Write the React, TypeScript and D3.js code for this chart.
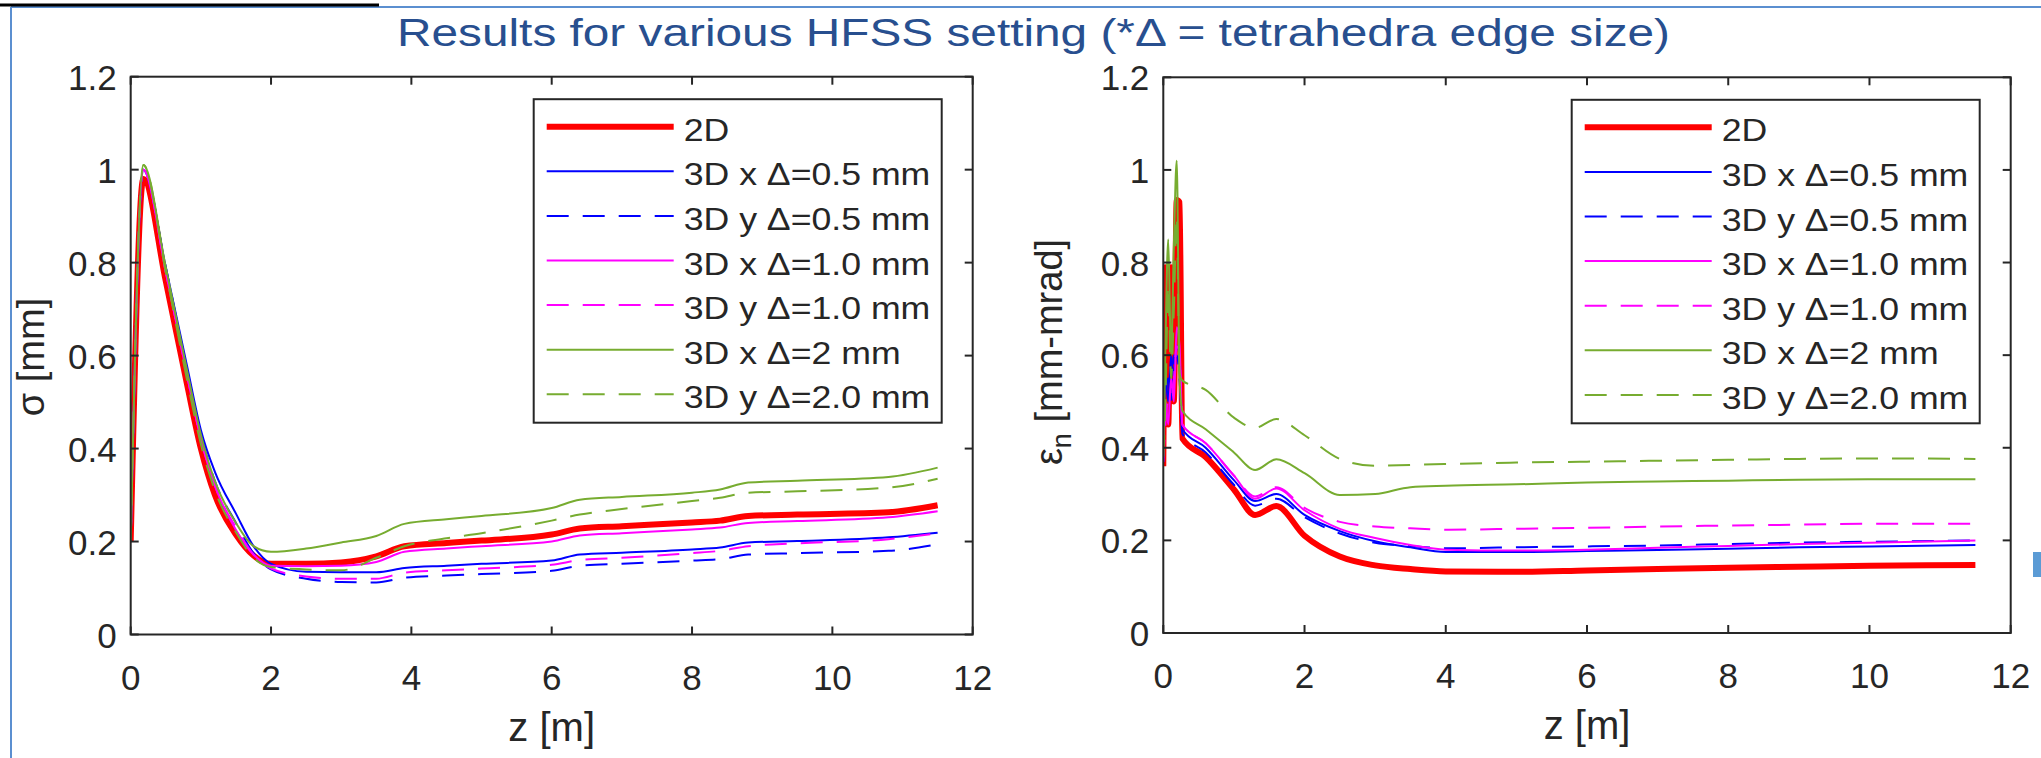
import React from 'react';
import * as d3 from 'd3';

const W = 2041;
const H = 758;

const titleText = 'Results for various HFSS setting (*Δ = tetrahedra edge size)';
const xTicks = [0, 2, 4, 6, 8, 10, 12];
const yTicks = [0, 0.2, 0.4, 0.6, 0.8, 1, 1.2];
const yTickLabels = ['0', '0.2', '0.4', '0.6', '0.8', '1', '1.2'];
const xLabel = 'z [m]';
const legendLabels = ['2D', '3D x Δ=0.5 mm', '3D y Δ=0.5 mm', '3D x Δ=1.0 mm', '3D y Δ=1.0 mm', '3D x Δ=2 mm', '3D y Δ=2.0 mm'];

// Left panel: sigma [mm] vs z [m]
const zSigma = [0, 0.18, 0.5, 0.8, 1.0, 1.2, 1.5, 1.75, 2.0, 2.5, 3.0, 3.5, 3.9, 4.5, 5.0, 6.0, 6.4, 7.0, 8.0, 8.4, 8.8, 9.5, 10.8, 11.5];
const sigma2D = [0.2, 0.98, 0.76, 0.54, 0.4, 0.3, 0.215, 0.17, 0.152, 0.152, 0.155, 0.168, 0.19, 0.197, 0.202, 0.215, 0.228, 0.233, 0.241, 0.245, 0.255, 0.258, 0.263, 0.278];
const sigmaX05 = [0.2, 1.0, 0.79, 0.58, 0.44, 0.35, 0.26, 0.19, 0.152, 0.135, 0.134, 0.134, 0.143, 0.148, 0.152, 0.159, 0.172, 0.176, 0.183, 0.187, 0.198, 0.201, 0.209, 0.219];
const sigmaY05 = [0.2, 1.0, 0.79, 0.57, 0.43, 0.33, 0.24, 0.175, 0.14, 0.12, 0.113, 0.112, 0.122, 0.127, 0.13, 0.137, 0.148, 0.152, 0.159, 0.162, 0.172, 0.175, 0.18, 0.194];
const sigmaX10 = [0.2, 1.0, 0.78, 0.56, 0.42, 0.32, 0.225, 0.172, 0.148, 0.147, 0.148, 0.156, 0.178, 0.185, 0.19, 0.2, 0.213, 0.218, 0.226, 0.23, 0.24, 0.244, 0.252, 0.265];
const sigmaY10 = [0.2, 1.0, 0.78, 0.56, 0.42, 0.32, 0.23, 0.172, 0.142, 0.125, 0.12, 0.12, 0.133, 0.138, 0.142, 0.15, 0.16, 0.165, 0.175, 0.18, 0.19, 0.196, 0.205, 0.218];
const sigmaX20 = [0.2, 1.01, 0.79, 0.57, 0.43, 0.33, 0.24, 0.19, 0.178, 0.185, 0.198, 0.212, 0.238, 0.248, 0.255, 0.272, 0.29, 0.296, 0.305, 0.312, 0.327, 0.331, 0.339, 0.359];
const sigmaY20 = [0.2, 1.01, 0.78, 0.55, 0.41, 0.31, 0.22, 0.165, 0.145, 0.14, 0.138, 0.165, 0.19, 0.207, 0.218, 0.245, 0.258, 0.27, 0.287, 0.294, 0.305, 0.308, 0.316, 0.335];

// Right panel: emittance eps_n [mm-mrad] vs z [m]
const zEps = [0, 0.03, 0.07, 0.11, 0.15, 0.19, 0.23, 0.27, 0.6, 1.0, 1.3, 1.6, 2.0, 2.5, 3.0, 3.5, 4.0, 5.0, 6.0, 7.0, 8.0, 9.0, 10.0, 11.5];
const eps2D = [0.36, 0.79, 0.45, 0.79, 0.5, 0.935, 0.93, 0.42, 0.38, 0.31, 0.255, 0.274, 0.21, 0.165, 0.146, 0.138, 0.133, 0.132, 0.135, 0.138, 0.141, 0.143, 0.145, 0.147];
const epsX05 = [0.37, 0.55, 0.5, 0.6, 0.55, 0.62, 0.6, 0.44, 0.4, 0.33, 0.285, 0.3, 0.255, 0.22, 0.198, 0.185, 0.175, 0.175, 0.177, 0.179, 0.182, 0.185, 0.187, 0.19];
const epsY05 = [0.37, 0.5, 0.55, 0.5, 0.6, 0.6, 0.55, 0.43, 0.39, 0.32, 0.275, 0.29, 0.25, 0.215, 0.195, 0.188, 0.183, 0.185, 0.187, 0.189, 0.192, 0.195, 0.197, 0.2];
const epsX10 = [0.37, 0.5, 0.45, 0.55, 0.5, 0.66, 0.62, 0.45, 0.41, 0.34, 0.29, 0.312, 0.265, 0.225, 0.205, 0.19, 0.18, 0.178, 0.18, 0.184, 0.188, 0.192, 0.195, 0.2];
const epsY10 = [0.37, 0.45, 0.5, 0.5, 0.55, 0.62, 0.6, 0.45, 0.41, 0.34, 0.295, 0.315, 0.27, 0.24, 0.23, 0.226, 0.223, 0.225, 0.227, 0.23, 0.232, 0.234, 0.236, 0.236];
const epsX20 = [0.38, 0.62, 0.85, 0.6, 0.84, 1.02, 0.55, 0.48, 0.44, 0.39, 0.352, 0.375, 0.345, 0.298, 0.3, 0.315, 0.318, 0.321, 0.325, 0.327, 0.329, 0.331, 0.332, 0.332];
const epsY20 = [0.38, 0.5, 0.75, 0.55, 0.7, 0.9, 0.56, 0.545, 0.525, 0.465, 0.443, 0.462, 0.427, 0.376, 0.361, 0.363, 0.365, 0.368, 0.37, 0.372, 0.374, 0.376, 0.377, 0.376];

const sigmaSeries = [sigma2D, sigmaX05, sigmaY05, sigmaX10, sigmaY10, sigmaX20, sigmaY20];
const epsSeries = [eps2D, epsX05, epsY05, epsX10, epsY10, epsX20, epsY20];

const STYLE = {
  colors: ['#ff0000', '#0000ff', '#0000ff', '#ff00ff', '#ff00ff', '#77ac30', '#77ac30'],
  dashed: [false, false, true, false, true, false, true],
  widths: [6, 2, 2, 2, 2, 2, 2],
  axis: '#262626',
  font: 'Liberation Sans, Arial, Helvetica, sans-serif',
};

type PanelProps = {
  id: string;
  x0: number; x1: number; yBot: number; yTop: number;
  z: number[]; series: number[][];
  ylabel: React.ReactNode; ylabelX: number; ylabelY: number;
};

function Panel({ id, x0, x1, yBot, yTop, z, series, ylabel, ylabelX, ylabelY }: PanelProps) {
  const xs = d3.scaleLinear().domain([0, 12]).range([x0, x1]);
  const ys = d3.scaleLinear().domain([0, 1.2]).range([yBot, yTop]);
  const line = d3.line<number>().x((_, i) => xs(z[i])).y((d) => ys(d)).curve(d3.curveMonotoneX);
  const tl = 8;
  const lgRight = x1 - 31;
  const lgLeft = lgRight - 408;
  const lgTop = yTop + 22.5;
  const lgH = 323.5;
  const rowY = (i: number) => lgTop + 27.5 + i * 44.6;
  return (
    <g>
      <defs>
        <clipPath id={id}>
          <rect x={x0} y={yTop} width={x1 - x0} height={yBot - yTop} />
        </clipPath>
      </defs>
      <g clipPath={`url(#${id})`}>
        {series.map((s, i) => (
          <path key={i} d={line(s) || ''} fill="none" stroke={STYLE.colors[i]} strokeWidth={STYLE.widths[i]}
            strokeDasharray={STYLE.dashed[i] ? '22 14' : undefined} strokeLinejoin="round" />
        ))}
      </g>
      <rect x={x0} y={yTop} width={x1 - x0} height={yBot - yTop} fill="none" stroke={STYLE.axis} strokeWidth={2} />
      {xTicks.map((t) => (
        <g key={'x' + t}>
          <line x1={xs(t)} x2={xs(t)} y1={yBot} y2={yBot - tl} stroke={STYLE.axis} strokeWidth={2} />
          <line x1={xs(t)} x2={xs(t)} y1={yTop} y2={yTop + tl} stroke={STYLE.axis} strokeWidth={2} />
          <text x={xs(t)} y={yBot + 55} textAnchor="middle" fontSize={35} fill={STYLE.axis} fontFamily={STYLE.font}>{t}</text>
        </g>
      ))}
      {yTicks.map((t, i) => (
        <g key={'y' + t}>
          <line x1={x0} x2={x0 + tl} y1={ys(t)} y2={ys(t)} stroke={STYLE.axis} strokeWidth={2} />
          <line x1={x1} x2={x1 - tl} y1={ys(t)} y2={ys(t)} stroke={STYLE.axis} strokeWidth={2} />
          <text x={x0 - 14} y={ys(t) + 13} textAnchor="end" fontSize={35} fill={STYLE.axis} fontFamily={STYLE.font}>{yTickLabels[i]}</text>
        </g>
      ))}
      <text x={(x0 + x1) / 2} y={yBot + 106} textAnchor="middle" fontSize={40} fill={STYLE.axis} fontFamily={STYLE.font}>{xLabel}</text>
      <text transform={`translate(${ylabelX},${ylabelY}) rotate(-90)`} textAnchor="middle" fontSize={38} fill={STYLE.axis} fontFamily={STYLE.font}>{ylabel}</text>
      <rect x={lgLeft} y={lgTop} width={lgRight - lgLeft} height={lgH} fill="#ffffff" stroke={STYLE.axis} strokeWidth={2} />
      {legendLabels.map((lab, i) => (
        <g key={'lg' + i}>
          <line x1={lgLeft + 13} x2={lgLeft + 140} y1={rowY(i)} y2={rowY(i)} stroke={STYLE.colors[i]} strokeWidth={STYLE.widths[i]}
            strokeDasharray={STYLE.dashed[i] ? '22 14' : undefined} />
          <text transform={`translate(${lgLeft + 150},${rowY(i) + 14}) scale(1.15,1)`} fontSize={31} fill={STYLE.axis} fontFamily={STYLE.font}>{lab}</text>
        </g>
      ))}
    </g>
  );
}

export default function App() {
  return (
    <svg width={W} height={H} viewBox={`0 0 ${W} ${H}`} style={{ position: 'absolute', left: 0, top: 0, background: '#ffffff' }}>
      <rect x={0} y={0} width={W} height={H} fill="#ffffff" />
      <line x1={11} y1={7} x2={11} y2={H} stroke="#5b8fd0" strokeWidth={2} />
      <line x1={11} y1={7} x2={W} y2={7} stroke="#5b8fd0" strokeWidth={2} />
      <line x1={0} y1={5} x2={379} y2={5} stroke="#000000" strokeWidth={3} />
      <rect x={2033} y={552} width={8} height={25} fill="#5b9bd5" />
      <text x={397} y={46} fontSize={38} textLength={1273} lengthAdjust="spacingAndGlyphs" fill="#284f8f" fontFamily={STYLE.font}>{titleText}</text>
      <Panel id="clipL" x0={130.7} x1={972.7} yBot={634.5} yTop={76.7} z={zSigma} series={sigmaSeries}
        ylabel={<tspan>σ [mm]</tspan>} ylabelX={44} ylabelY={357} />
      <Panel id="clipR" x0={1163.3} x1={2010.7} yBot={633} yTop={77.3} z={zEps} series={epsSeries}
        ylabel={<><tspan>ε</tspan><tspan fontSize={27} dy={9}>n</tspan><tspan dy={-9}> [mm-mrad]</tspan></>} ylabelX={1062} ylabelY={352} />
    </svg>
  );
}
